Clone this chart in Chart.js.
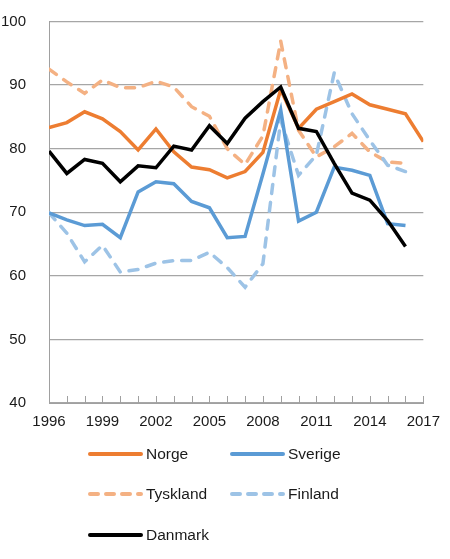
<!DOCTYPE html>
<html>
<head>
<meta charset="utf-8">
<script src="https://cdn.jsdelivr.net/npm/chart.js@4"></script>
<style>
  html, body { margin: 0; padding: 0; background: #fff; }
  #wrap { width: 450px; height: 559px; position: relative; }
</style>
</head>
<body>
<div id="wrap"><canvas id="c"></canvas></div>
<script>
const years = [1996,1997,1998,1999,2000,2001,2002,2003,2004,2005,2006,2007,2008,2009,2010,2011,2012,2013,2014,2015,2016,2017];
const norge    = [83.3, 84.1, 85.8, 84.7, 82.7, 79.8, 83.1, 79.5, 77.1, 76.7, 75.4, 76.4, 79.4, 89.3, 83.2, 86.2, 87.4, 88.6, 86.9, 86.2, 85.5, 81.1];
const sverige  = [69.9, 68.8, 67.9, 68.1, 66.0, 73.2, 74.8, 74.5, 71.7, 70.7, 66.0, 66.2, 76.0, 86.1, 68.6, 70.0, 77.1, 76.6, 75.8, 68.2, 67.9];
const tyskland = [92.5, 90.5, 88.7, 90.8, 89.6, 89.6, 90.6, 89.7, 86.6, 85.1, 80.0, 77.5, 82.0, 96.9, 82.9, 78.7, 80.3, 82.4, 79.5, 77.9, 77.7];
const finland  = [69.9, 66.7, 62.2, 64.8, 60.6, 61.0, 62.0, 62.4, 62.4, 63.7, 61.3, 58.2, 61.9, 84.5, 75.8, 79.0, 91.9, 85.5, 81.3, 77.4, 76.4];
const danmark  = [79.6, 76.1, 78.3, 77.7, 74.8, 77.3, 77.0, 80.4, 79.8, 83.6, 80.8, 84.8, 87.4, 89.7, 83.2, 82.7, 77.7, 73.0, 71.9, 68.7, 64.6];
const yTicks = [40, 50, 60, 70, 80, 90, 100];
const xTickLabels = [1996, 1999, 2002, 2005, 2008, 2011, 2014, 2017];

const FONT = "'Liberation Sans', Arial, sans-serif";
const toPts = vals => vals.map((v, i) => ({ x: years[i], y: v }));

function ds(label, vals, color, dashed, order) {
  return {
    label, data: toPts(vals), borderColor: color, backgroundColor: color,
    borderWidth: 3.5, pointRadius: 0, tension: 0, fill: false,
    borderDash: dashed ? [9, 9] : [], borderCapStyle: dashed ? 'round' : 'butt',
    borderJoinStyle: 'miter', order
  };
}

const datasets = [
  ds('Norge', norge, '#ED7D31', false, 1),
  ds('Sverige', sverige, '#5B9BD5', false, 2),
  ds('Tyskland', tyskland, '#F4B183', true, 4),
  ds('Finland', finland, '#9DC3E6', true, 3),
  ds('Danmark', danmark, '#000000', false, 0)
];

// legend layout (positions only)
const legendSlots = [
  { x: 88, y: 454 }, { x: 230, y: 454 },
  { x: 88, y: 494 }, { x: 230, y: 494 },
  { x: 88, y: 535 }
];

const innerTicks = {
  id: 'innerTicks',
  beforeDatasetsDraw(chart) {
    const { ctx, chartArea, scales } = chart;
    ctx.save();
    ctx.strokeStyle = '#a0a0a0';
    ctx.lineWidth = 1;
    for (const yr of years) {
      const px = Math.round(scales.x.getPixelForValue(yr)) + 0.5;
      ctx.beginPath();
      ctx.moveTo(px, chartArea.bottom);
      ctx.lineTo(px, chartArea.bottom - 7);
      ctx.stroke();
    }
    ctx.restore();
  }
};

const customLegend = {
  id: 'customLegend',
  afterDraw(chart) {
    const { ctx } = chart;
    ctx.save();
    chart.data.datasets.forEach((d, i) => {
      const s = legendSlots[i];
      ctx.beginPath();
      ctx.strokeStyle = d.borderColor;
      ctx.lineWidth = 4;
      ctx.lineCap = 'round';
      ctx.setLineDash(d.borderDash && d.borderDash.length ? [8, 8] : []);
      ctx.moveTo(s.x + 2, s.y);
      ctx.lineTo(s.x + 53, s.y);
      ctx.stroke();
      ctx.setLineDash([]);
      ctx.fillStyle = '#1a1a1a';
      ctx.font = '15.5px ' + FONT;
      ctx.textBaseline = 'middle';
      ctx.textAlign = 'left';
      ctx.fillText(d.label, s.x + 58, s.y + 1);
    });
    ctx.restore();
  }
};

new Chart(document.getElementById('c'), {
  type: 'line',
  data: { datasets },
  plugins: [innerTicks, customLegend],
  options: {
    responsive: true,
    maintainAspectRatio: false,
    animation: false,
    layout: { padding: { left: 0, right: 20, top: 21.5, bottom: 126 } },
    plugins: { legend: { display: false }, tooltip: { enabled: false } },
    scales: {
      x: {
        type: 'linear', min: 1996, max: 2017,
        afterBuildTicks: s => { s.ticks = xTickLabels.map(v => ({ value: v })); },
        afterFit: s => { s.height = 30; },
        ticks: { callback: v => String(v), color: '#1a1a1a', font: { family: FONT, size: 15 }, padding: 10, maxRotation: 0, autoSkip: false },
        grid: { drawOnChartArea: false, drawTicks: false },
        border: { display: true, color: '#a0a0a0', width: 1 }
      },
      y: {
        min: 40, max: 100,
        afterBuildTicks: s => { s.ticks = yTicks.map(v => ({ value: v })); },
        afterFit: s => { s.width = 49; s.paddingTop = 0; s.paddingBottom = 0; },
        ticks: { callback: v => String(v), color: '#1a1a1a', font: { family: FONT, size: 15 }, padding: 23 },
        grid: { color: '#a6a6a6', lineWidth: 1.2, drawTicks: false },
        border: { display: true, color: '#a0a0a0', width: 1 }
      }
    }
  }
});
</script>
</body>
</html>
